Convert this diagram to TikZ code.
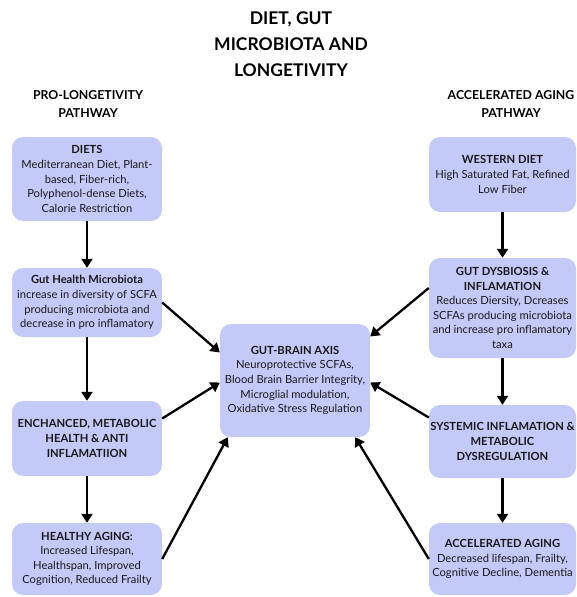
\documentclass[tikz,border=0pt]{standalone}
\usepackage{fontspec}
\setmainfont{Lato}
\usetikzlibrary{arrows.meta, calc, positioning}
\definecolor{boxBlue}{RGB}{196,202,248}
\tikzset{
    pathBox/.style={rectangle, rounded corners=11pt, fill=boxBlue, align=center, inner sep=1pt, text=black!90, font=\fontsize{11.2}{14.6}\selectfont},
    leftBox/.style={pathBox, minimum width=150pt},
    rightBox/.style={pathBox, minimum width=147pt},
    titleText/.style={align=center, inner sep=0pt, font=\bfseries\fontsize{17.5}{26}\selectfont},
    sideTitle/.style={align=center, inner sep=0pt, font=\bfseries\fontsize{12.3}{18}\selectfont},
    flowArrow/.style={-{Triangle[width=11pt, length=9pt]}, line width=2.3pt},
}

\begin{document}
\begin{tikzpicture}[x=1pt, y=-1pt]
        \useasboundingbox (0,0) rectangle (577,597);

        % titles
        \node[titleText] (title) at (291,44) {DIET, GUT\\MICROBIOTA AND\\LONGETIVITY};
        \node[sideTitle] (proTitle) at (88,104) {PRO-LONGETIVITY\\PATHWAY};
        \node[sideTitle] (accTitle) at (511,104) {ACCELERATED AGING\\PATHWAY};

        % pro-longetivity pathway
        \node[leftBox, minimum height=84pt] (diets) at (87,179) {\textbf{DIETS}\\Mediterranean Diet, Plant-\\based, Fiber-rich,\\Polyphenol-dense Diets,\\Calorie Restriction};
        \node[leftBox, minimum height=69pt] (gutHealth) at (87,302.5) {\textbf{Gut Health Microbiota}\\increase in diversity of SCFA\\producing microbiota and\\decrease in pro inflamatory};
        \node[leftBox, minimum height=75pt] (enhanced) at (87,438.5) {\textbf{ENCHANCED, METABOLIC}\\\textbf{HEALTH \& ANTI}\\\textbf{INFLAMATIION}};
        \node[leftBox, minimum height=72pt] (healthy) at (87,559) {\textbf{HEALTHY AGING:}\\Increased Lifespan,\\Healthspan, Improved\\Cognition, Reduced Frailty};

        % centre
        \node[pathBox, minimum width=150pt, minimum height=113pt] (gutBrain) at (295,380.5) {\textbf{GUT-BRAIN AXIS}\\Neuroprotective SCFAs,\\Blood Brain Barrier Integrity,\\Microglial modulation,\\Oxidative Stress Regulation};

        % accelerated aging pathway
        \node[rightBox, minimum height=75pt] (western) at (502.5,174.5) {\textbf{WESTERN DIET}\\High Saturated Fat, Refined\\Low Fiber};
        \node[rightBox, minimum height=100pt] (dysbiosis) at (502.5,308) {\textbf{GUT DYSBIOSIS \&}\\\textbf{INFLAMATION}\\Reduces Diersity, Dcreases\\SCFAs producing microbiota\\and increase pro inflamatory\\taxa};
        \node[rightBox, minimum height=73pt] (systemic) at (502.5,441.5) {\textbf{SYSTEMIC INFLAMATION \&}\\\textbf{METABOLIC}\\\textbf{DYSREGULATION}};
        \node[rightBox, minimum height=72pt] (accAging) at (502.5,559) {\textbf{ACCELERATED AGING}\\Decreased lifespan, Frailty,\\Cognitive Decline, Dementia};

        % vertical flow
        \draw[flowArrow] (diets) -- (gutHealth);
        \draw[flowArrow] (gutHealth) -- (enhanced);
        \draw[flowArrow] (enhanced) -- (healthy);
        \draw[flowArrow] (western) -- (dysbiosis);
        \draw[flowArrow] (dysbiosis) -- (systemic);
        \draw[flowArrow] (systemic) -- (accAging);

        % into the gut-brain axis
        \draw[flowArrow] (gutHealth.east) -- ([yshift=28pt]gutBrain.west);
        \draw[flowArrow] ([yshift=20pt]enhanced.east) -- ([yshift=-2pt]gutBrain.west);
        \draw[flowArrow] (healthy.east) -- ([xshift=8pt]gutBrain.south west);
        \draw[flowArrow] ([yshift=20pt]dysbiosis.west) -- ([yshift=44pt]gutBrain.east);
        \draw[flowArrow] ([yshift=24pt]systemic.west) -- ([yshift=-2pt]gutBrain.east);
        \draw[flowArrow] (accAging.west) -- ([xshift=-15pt]gutBrain.south east);

    \end{tikzpicture}
\end{document}
